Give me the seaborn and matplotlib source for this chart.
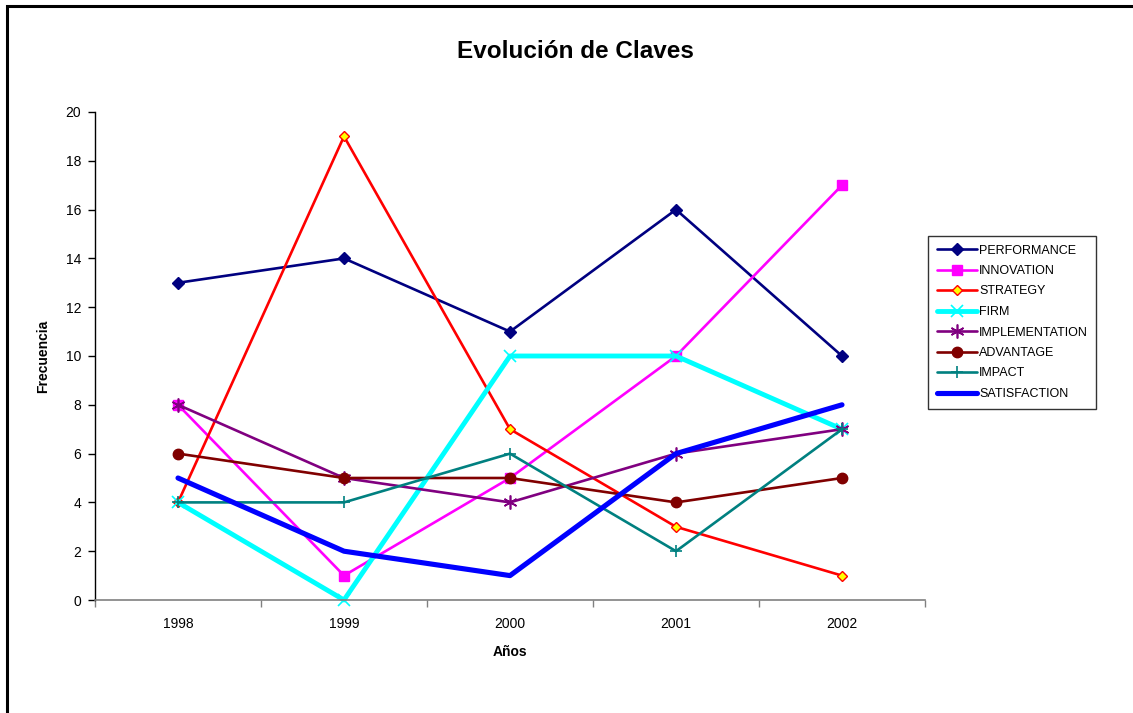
import matplotlib
matplotlib.use("Agg")
import matplotlib.pyplot as plt
import seaborn as sns
import pandas as pd
from matplotlib.patches import Rectangle

# ─── Data ─────────────────────────────────────────────────────────────────────
years = ["1998", "1999", "2000", "2001", "2002"]
performance = [13, 14, 11, 16, 10]
innovation = [8, 1, 5, 10, 17]
strategy = [4, 19, 7, 3, 1]
firm = [4, 0, 10, 10, 7]
implementation = [8, 5, 4, 6, 7]
advantage = [6, 5, 5, 4, 5]
impact = [4, 4, 6, 2, 7]
satisfaction = [5, 2, 1, 6, 8]

series = {
    "PERFORMANCE": performance,
    "INNOVATION": innovation,
    "STRATEGY": strategy,
    "FIRM": firm,
    "IMPLEMENTATION": implementation,
    "ADVANTAGE": advantage,
    "IMPACT": impact,
    "SATISFACTION": satisfaction,
}

# colour, linewidth, marker, markersize, facecolor, edgecolor
styles = {
    "PERFORMANCE":    ("#000080", 1.9, "D", 6, "#000080", "#000080"),
    "INNOVATION":     ("#FF00FF", 1.9, "s", 7, "#FF00FF", "#FF00FF"),
    "STRATEGY":       ("#FF0000", 1.9, "D", 5.5, "#FFFF00", "#FF0000"),
    "FIRM":           ("#00FFFF", 3.5, "x", 9, "#00FFFF", "#00FFFF"),
    "IMPLEMENTATION": ("#800080", 1.9, (6, 2, 0), 10, "#800080", "#800080"),
    "ADVANTAGE":      ("#800000", 1.9, "o", 7.5, "#800000", "#800000"),
    "IMPACT":         ("#008080", 1.9, "+", 9, "#008080", "#008080"),
    "SATISFACTION":   ("#0000FF", 3.7, None, 0, "#0000FF", "#0000FF"),
}

sns.set_theme(style="white")
plt.rcParams["font.family"] = ["Liberation Sans", "DejaVu Sans"]
plt.rcParams["text.color"] = "black"
plt.rcParams["axes.labelcolor"] = "black"

fig = plt.figure(figsize=(11.33, 7.13), dpi=100)
ax = fig.add_axes([95 / 1133, 1 - 600 / 713, 830 / 1133, 488 / 713])

pos = list(range(len(years)))
for name, vals in series.items():
    color, lw, mk, ms, fc, ec = styles[name]
    df = pd.DataFrame({"pos": pos, "val": vals})
    sns.lineplot(data=df, x="pos", y="val", ax=ax, color=color, linewidth=lw,
                 marker=mk, markersize=ms, markerfacecolor=fc,
                 markeredgecolor=ec, markeredgewidth=1.2 if mk in ("x", "+", (6, 2, 0)) else 1.0,
                 label=name, clip_on=False, sort=False)

ax.set_xlim(-0.5, len(years) - 0.5)
ax.set_ylim(0, 20)
ax.set_yticks(range(0, 21, 2))
ax.set_xticks(pos)
ax.set_xticklabels(years)
ax.set_xticks([p - 0.5 for p in range(len(years) + 1)], minor=True)
ax.tick_params(axis="x", which="major", length=0, pad=12, labelsize=10, colors="black")
ax.tick_params(axis="x", which="minor", length=5, width=1, color="#808080", direction="out", bottom=True)
ax.tick_params(axis="y", length=5, width=1, color="black", direction="out", left=True,
               labelsize=10, labelcolor="black", pad=5)

for s in ["top", "right"]:
    ax.spines[s].set_visible(False)
ax.spines["left"].set_color("black")
ax.spines["left"].set_linewidth(1)
ax.spines["bottom"].set_color("#808080")
ax.spines["bottom"].set_linewidth(1.2)

ax.set_xlabel("Años", fontsize=10, fontweight="bold", labelpad=10)
ax.set_ylabel("Frecuencia", fontsize=10, fontweight="bold", labelpad=11)
fig.text(575 / 1133, 1 - 51 / 713, "Evolución de Claves", ha="center", va="center",
         fontsize=17.5, fontweight="bold", color="black")

leg = ax.legend(loc="upper left", bbox_to_anchor=(928 / 1133, 1 - 236 / 713),
                bbox_transform=fig.transFigure, frameon=True, fancybox=False,
                fontsize=9, handlelength=3.2, handletextpad=0.2,
                labelspacing=0.68, borderpad=0.68, borderaxespad=0)
leg.get_frame().set_edgecolor("black")
leg.get_frame().set_linewidth(1)
for t in leg.get_texts():
    t.set_color("black")

# outer chart frame (extends past the right and bottom edges)
fig.patches.append(Rectangle((7 / 1133, -0.2), 1.2, 1.2 - 6 / 713,
                             transform=fig.transFigure, fill=False,
                             edgecolor="black", linewidth=2.2, clip_on=False))

fig.savefig("out.png", dpi=100)
